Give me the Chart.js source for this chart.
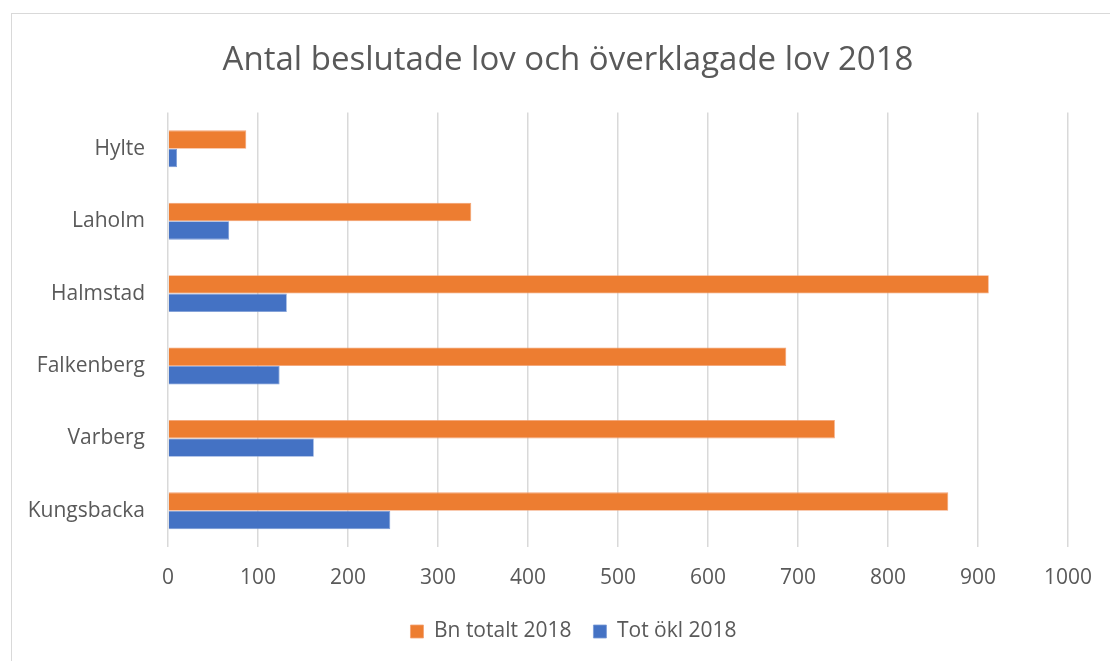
<!DOCTYPE html>
<html>
<head>
<meta charset="utf-8">
<script src="https://cdn.jsdelivr.net/npm/chart.js@4/dist/chart.umd.min.js"></script>
<style>
  html, body { margin: 0; padding: 0; background: #fff; overflow: hidden; width: 1110px; height: 661px; }
  #frame { position: absolute; left: 11px; top: 13px; width: 1110px; height: 700px; border: 1.5px solid #d9d9d9; box-sizing: border-box; }
  #wrap { position: absolute; left: 0; top: 0; width: 1110px; height: 661px; }
</style>
</head>
<body>
<div id="frame"></div>
<div id="wrap"><canvas id="c" width="1110" height="661"></canvas></div>
<script>
const categories = ["Hylte", "Laholm", "Halmstad", "Falkenberg", "Varberg", "Kungsbacka"];
const bnTotalt2018 = [87, 337, 912, 687, 741, 867];
const totOkl2018 = [10, 68, 132, 124, 162, 247];
const seriesNames = ["Bn totalt 2018", "Tot ökl 2018"];
const chartTitle = "Antal beslutade lov och överklagade lov 2018";

const FONT = "'Open Sans', 'Noto Sans', sans-serif";
const GRAY = "#595959";

// Shift title and legend boxes so they are centred like the original
const boxShift = {
  id: "boxShift",
  afterLayout(chart) {
    if (chart.titleBlock) { chart.titleBlock.left += 65; }
    if (chart.legend) { chart.legend.left += 76; }
  }
};

new Chart(document.getElementById("c"), {
  type: "bar",
  data: {
    labels: categories,
    datasets: [
      { label: seriesNames[0], data: bnTotalt2018, backgroundColor: "#ED7D31", borderColor: "#F4A274", borderWidth: 0.8 },
      { label: seriesNames[1], data: totOkl2018, backgroundColor: "#4472C4", borderColor: "#7A9AD6", borderWidth: 0.8 }
    ]
  },
  plugins: [boxShift],
  options: {
    indexAxis: "y",
    responsive: false,
    animation: false,
    devicePixelRatio: 1,
    datasets: { bar: { categoryPercentage: 0.51, barPercentage: 1.0 } },
    layout: { padding: { top: 0, bottom: 9, left: 0, right: 39 } },
    plugins: {
      title: {
        display: true,
        text: chartTitle,
        color: GRAY,
        font: { family: FONT, size: 33, weight: "normal", lineHeight: 1.2 },
        padding: { top: 41, bottom: 32 }
      },
      legend: {
        display: true,
        position: "bottom",
        labels: {
          color: GRAY,
          font: { family: FONT, size: 21, lineHeight: 1.2 },
          boxWidth: 13,
          boxHeight: 13,
          padding: 22,
          useBorderRadius: false
        }
      },
      tooltip: { enabled: false }
    },
    scales: {
      x: {
        min: 0,
        max: 1000,
        ticks: { stepSize: 100, color: GRAY, font: { family: FONT, size: 21, lineHeight: 1.2 }, padding: 18, maxRotation: 0, callback: (v) => String(v) },
        grid: { color: "#d9d9d9", lineWidth: 1.5, drawTicks: false },
        border: { display: false },
        afterFit: (s) => { s.height = 52; }
      },
      y: {
        ticks: { color: GRAY, font: { family: FONT, size: 21, lineHeight: 1.2 }, padding: 23 },
        grid: { display: false, drawTicks: false },
        border: { display: false },
        afterFit: (s) => { s.width = 168; }
      }
    }
  }
});
</script>
</body>
</html>
